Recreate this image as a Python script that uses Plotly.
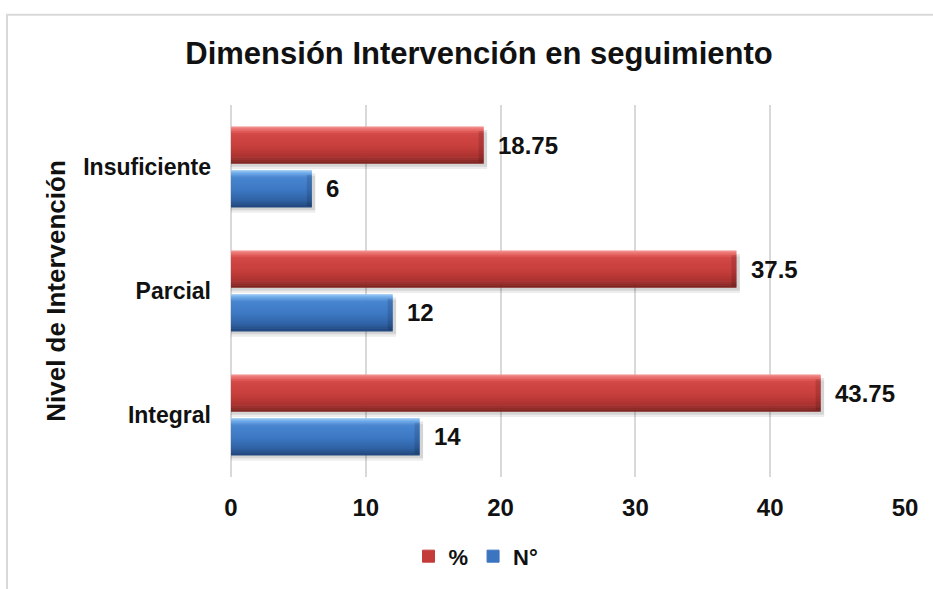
import plotly.graph_objects as go

# ---- data -------------------------------------------------------------
categories = ["Integral", "Parcial", "Insuficiente"]
pct_values = [43.75, 37.5, 18.75]
count_values = [14, 12, 6]
series_names = ["%", "N°"]
x_ticks = [0, 10, 20, 30, 40, 50]

# ---- style ------------------------------------------------------------
FONT = "Liberation Sans, Arial, sans-serif"
BAR_H = 0.296          # bar thickness in category units
PCT_OFFSET = 0.028     # red bar sits just above the category centre
CNT_OFFSET = -0.324    # blue bar sits just below it
N_STRIPS = 18          # strips used to build the vertical shading

# colour profiles (top -> bottom) giving the bevelled look
RED_STOPS = [(0.0, "#f59a98"), (0.10, "#e76562"), (0.20, "#d24846"),
             (0.55, "#c63e3c"), (0.82, "#ac3230"), (1.0, "#7a2120")]
BLUE_STOPS = [(0.0, "#9bc9f5"), (0.10, "#62a0e5"), (0.20, "#4885d0"),
              (0.55, "#3c77c2"), (0.82, "#3062a5"), (1.0, "#21467a")]


def hex_to_rgb(h):
    h = h.lstrip("#")
    return tuple(int(h[i:i + 2], 16) for i in (0, 2, 4))


def color_at(stops, t):
    for (t0, c0), (t1, c1) in zip(stops[:-1], stops[1:]):
        if t0 <= t <= t1:
            f = (t - t0) / (t1 - t0) if t1 > t0 else 0
            a, b = hex_to_rgb(c0), hex_to_rgb(c1)
            r = [round(a[i] + (b[i] - a[i]) * f) for i in range(3)]
            return f"rgb({r[0]},{r[1]},{r[2]})"
    return stops[-1][1]


fig = go.Figure()


def add_shaded_bars(values, name, offset, stops, rank, legend_color):
    # soft drop shadow under the bar
    for grow, alpha in ((0.045, 0.07), (0.025, 0.10)):
        fig.add_trace(go.Bar(
            y=categories, x=[v + 0.25 for v in values], orientation="h",
            offset=offset - grow, width=BAR_H, base=0,
            marker=dict(color=f"rgba(0,0,0,{alpha})", line=dict(width=0)),
            showlegend=False, hoverinfo="skip", legendgroup=name))
    # vertical gradient made of thin strips
    step = BAR_H / N_STRIPS
    for k in range(N_STRIPS):
        t = (k + 0.5) / N_STRIPS
        top = offset + BAR_H - k * step
        fig.add_trace(go.Bar(
            y=categories, x=values, orientation="h",
            offset=top - step - 0.002, width=step + 0.004,
            marker=dict(color=color_at(stops, t), line=dict(width=0)),
            showlegend=False, hoverinfo="skip", legendgroup=name))
    # darker end cap on the right side of each bar
    cap = 0.38
    fig.add_trace(go.Bar(
        y=categories, x=[cap] * len(values), base=[v - cap for v in values],
        orientation="h", offset=offset + 0.01, width=BAR_H - 0.045,
        marker=dict(color="rgba(0,0,0,0.13)", line=dict(width=0)),
        showlegend=False, hoverinfo="skip", legendgroup=name))
    # transparent hover target spanning the whole bar
    fig.add_trace(go.Bar(
        y=categories, x=values, orientation="h",
        offset=offset, width=BAR_H,
        marker=dict(color="rgba(0,0,0,0)", line=dict(width=0)),
        name=name, legendgroup=name, legendrank=rank, showlegend=False))
    # legend entry
    fig.add_trace(go.Bar(
        y=[None], x=[None], orientation="h",
        marker=dict(color=legend_color, line=dict(width=1, color=legend_color)),
        name=name, legendgroup=name, legendrank=rank, showlegend=True))


add_shaded_bars(count_values, series_names[1], CNT_OFFSET, BLUE_STOPS, 2, "#3b74bf")
add_shaded_bars(pct_values, series_names[0], PCT_OFFSET, RED_STOPS, 1, "#c33c3a")

# value labels at the end of each bar
annotations = []
for series, offset in ((pct_values, PCT_OFFSET), (count_values, CNT_OFFSET)):
    for i, v in enumerate(series):
        annotations.append(dict(
            x=v, y=i + offset + BAR_H / 2, xref="x", yref="y",
            text=f"{v:g}", showarrow=False, xanchor="left", yanchor="middle",
            xshift=12, font=dict(family=FONT, size=24, color="#111111", weight="bold")))

# chart frame
L, R, T, B = 231, 28, 105, 109
W, H = 933, 589
pw, ph = W - L - R, H - T - B
frame = dict(type="rect", xref="paper", yref="paper",
             x0=(7 - L) / pw, x1=(W + 20 - L) / pw,
             y0=-(B + 20) / ph, y1=(H - B - 14) / ph,
             line=dict(color="#d9d9d9", width=2), fillcolor="rgba(0,0,0,0)",
             layer="below")

fig.update_layout(
    width=W, height=H, autosize=False,
    margin=dict(l=L, r=R, t=T, b=B),
    paper_bgcolor="white", plot_bgcolor="white",
    barmode="overlay",
    font=dict(family=FONT, color="#111111"),
    title=dict(text="Dimensión Intervención en seguimiento",
               x=479 / W, xanchor="center", xref="container",
               y=1 - 53 / H, yanchor="middle", yref="container",
               font=dict(family=FONT, size=31, color="#111111", weight="bold")),
    xaxis=dict(range=[0, 50], tickvals=x_ticks, showgrid=True,
               gridcolor="#d9d9d9", gridwidth=2, zeroline=True,
               zerolinecolor="#d9d9d9", zerolinewidth=2, showline=False,
               ticks="", ticklabelstandoff=14, fixedrange=True,
               tickfont=dict(family=FONT, size=24, color="#111111", weight="bold")),
    yaxis=dict(type="category", categoryorder="array", categoryarray=categories,
               range=[-0.5, 2.5], showgrid=False, zeroline=False, showline=False,
               ticks="", ticklabelstandoff=19, fixedrange=True,
               tickfont=dict(family=FONT, size=23, color="#111111", weight="bold"),
               title=dict(text="Nivel de Intervención", standoff=10,
                          font=dict(family=FONT, size=26, color="#111111", weight="bold"))),
    legend=dict(orientation="h", x=(476 - L) / pw, xanchor="center",
                y=-(560 - (H - B)) / ph, yanchor="middle",
                font=dict(family=FONT, size=22, color="#111111", weight="bold"),
                itemwidth=30, traceorder="normal", bgcolor="rgba(0,0,0,0)"),
    annotations=annotations,
    shapes=[frame],
    showlegend=True,
)

fig.write_html("out.html")
